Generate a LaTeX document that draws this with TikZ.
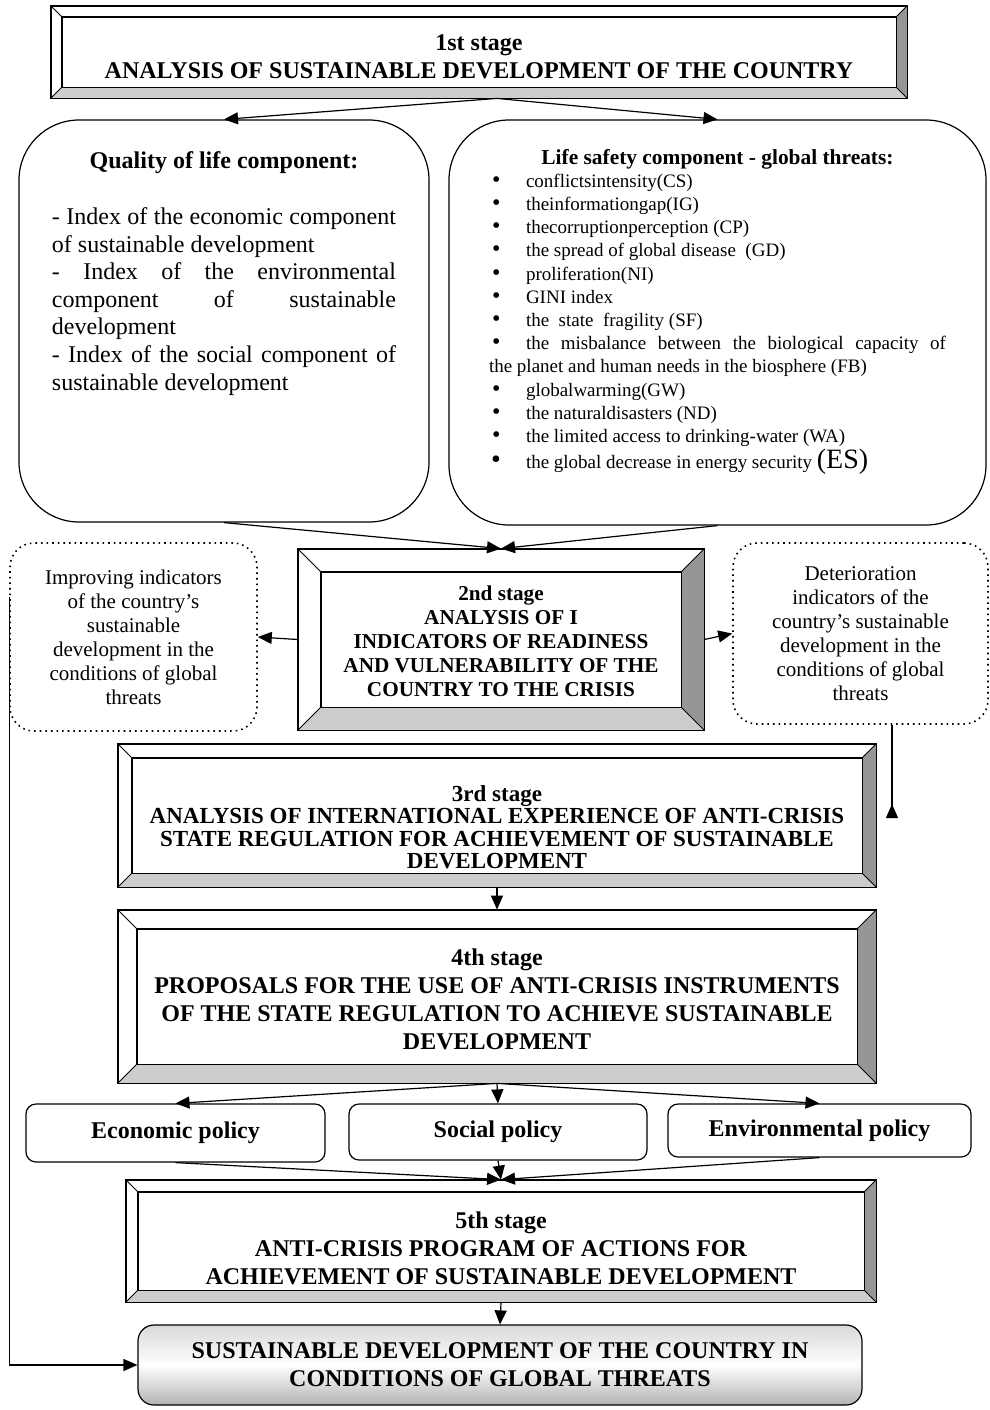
\documentclass[tikz,border=0pt]{standalone}
\usepackage{fontspec}
\setmainfont{Liberation Serif}
\usetikzlibrary{arrows.meta,positioning}
\definecolor{bevelgray}{RGB}{150,150,150}
\definecolor{bevellight}{RGB}{205,205,205}

% bevelled frame round a stage node: #1 node, #2 depth
\newcommand{\bevelbox}[2]{%
  \fill[bevellight] (#1.south west) -- ([shift={(#2,#2)}]#1.south west) -- ([shift={(-#2,#2)}]#1.south east) -- (#1.south east) -- cycle;
  \fill[bevelgray] (#1.north east) -- ([shift={(-#2,-#2)}]#1.north east) -- ([shift={(-#2,#2)}]#1.south east) -- (#1.south east) -- cycle;
  \draw[line width=0.4pt] (#1.north west) -- ++(#2,-#2) (#1.north east) -- ++(-#2,-#2)
    (#1.south west) -- ++(#2,#2) (#1.south east) -- ++(-#2,#2);
  \draw[line width=0.9pt] ([shift={(#2,-#2)}]#1.north west) rectangle ([shift={(-#2,#2)}]#1.south east);
  \draw[line width=0.9pt] (#1.north west) rectangle (#1.south east);
}
\newcommand{\threat}[1]{\makebox[18.5pt][l]{\hspace{1.5pt}{\fontsize{12pt}{11.6pt}\selectfont\textbullet}}#1\par}

\tikzset{
  stage/.style={fill=white, inner sep=0pt},
  stagetext/.style={align=center, font=\bfseries\fontsize{12pt}{14pt}\selectfont},
  roundbox/.style={draw, line width=0.6pt, rounded corners=30pt, fill=white, inner sep=0pt},
  sidebox/.style={draw, dotted, line width=0.8pt, rounded corners=12pt, align=center,
    inner sep=0pt, font=\fontsize{10.5pt}{12pt}\selectfont},
  policy/.style={draw, line width=0.6pt, rounded corners=5pt, inner sep=0pt,
    font=\bfseries\fontsize{12pt}{14pt}\selectfont},
  arrow/.style={-{Triangle[length=7pt,width=6pt]}, line width=0.6pt},
}

\begin{document}
\begin{tikzpicture}[x=0.5pt, y=-0.5pt]
\useasboundingbox (0,0) rectangle (990,1410);

% stage 1
\node[stage, minimum width=428pt, minimum height=46pt] (s1) at (479,52) {};
\bevelbox{s1}{5.5pt}
\node[stagetext] (s1txt) at (479,57) {1st stage\\ANALYSIS OF SUSTAINABLE DEVELOPMENT OF THE COUNTRY};

% components
\node[roundbox, minimum width=205pt, minimum height=201pt] (qual) at (224,321) {%
  \parbox[c][169pt][t]{172pt}{%
    {\centering\bfseries\fontsize{12pt}{14pt}\selectfont Quality of life component:\par}
    \vspace{14pt}
    \fontsize{12pt}{13.8pt}\selectfont
    - Index of the economic component\linebreak of sustainable development\par
    - Index of the environmental\linebreak component of sustainable\linebreak development\par
    - Index of the social component of\linebreak sustainable development\par}};
\node[roundbox, minimum width=268.5pt, minimum height=202.5pt] (safety) at (717.5,322.5) {%
  \parbox[c][173.5pt][t]{228.5pt}{%
    {\centering\bfseries\fontsize{10.7pt}{12.5pt}\selectfont Life safety component - global threats:\par}
    \fontsize{9.5pt}{11.6pt}\selectfont
    \threat{conflictsintensity(CS)}
    \threat{theinformationgap(IG)}
    \threat{thecorruptionperception (CP)}
    \threat{the spread of global disease\ \ (GD)}
    \threat{proliferation(NI)}
    \threat{GINI index}
    \threat{the\ \ state\ \ fragility (SF)}
    \threat{the misbalance between the biological capacity of\linebreak the planet and human needs in the biosphere (FB)}
    \threat{globalwarming(GW)}
    \threat{the naturaldisasters (ND)}
    \threat{the limited access to drinking-water (WA)}
    \makebox[18.5pt][l]{\hspace{1pt}{\fontsize{14pt}{12pt}\selectfont\textbullet}}the global decrease in energy security {\fontsize{14pt}{14pt}\selectfont(ES)}\par}};

% stage 2 and its outcomes
\node[stage, minimum width=203pt, minimum height=90.5pt] (s2) at (501,639.5) {};
\bevelbox{s2}{11.5pt}
\node[stagetext, font=\bfseries\fontsize{10.6pt}{12pt}\selectfont] (s2txt) at (501,641)
  {2nd stage\\ANALYSIS OF I\\INDICATORS OF READINESS\\AND VULNERABILITY OF THE\\COUNTRY TO THE CRISIS};
\node[sidebox, minimum width=123.5pt, minimum height=94pt] (imp) at (133.5,637)
  {Improving indicators\\of the country’s\\sustainable\\development in the\\conditions of global\\threats};
\node[sidebox, minimum width=127.5pt, minimum height=90.5pt] (det) at (860.5,633.5)
  {Deterioration\\indicators of the\\country’s sustainable\\development in the\\conditions of global\\threats};

% stage 3
\node[stage, minimum width=379pt, minimum height=71.5pt] (s3) at (497,815.5) {};
\bevelbox{s3}{7pt}
\node[stagetext, font=\bfseries\fontsize{11.5pt}{11.2pt}\selectfont] (s3txt) at (497,827)
  {3rd stage\\ANALYSIS OF INTERNATIONAL EXPERIENCE OF ANTI-CRISIS\\STATE REGULATION FOR ACHIEVEMENT OF SUSTAINABLE\\DEVELOPMENT};

% stage 4
\node[stage, minimum width=379pt, minimum height=86.5pt] (s4) at (497,996.5) {};
\bevelbox{s4}{9.5pt}
\node[stagetext] (s4txt) at (497,999)
  {4th stage\\PROPOSALS FOR THE USE OF ANTI-CRISIS INSTRUMENTS\\OF THE STATE REGULATION TO ACHIEVE SUSTAINABLE\\DEVELOPMENT};

% policies
\node[policy, minimum width=149.5pt, minimum height=29pt] (econ) at (175.5,1133) {Economic policy};
\node[policy, minimum width=149pt, minimum height=28pt] (social) at (498,1132) {Social policy};
\node[policy, minimum width=151.5pt, minimum height=26.5pt] (env) at (819.5,1130.5) {Environmental policy};

% stage 5
\node[stage, minimum width=375pt, minimum height=61pt] (s5) at (501,1241) {};
\bevelbox{s5}{6pt}
\node[stagetext] (s5txt) at (501,1248)
  {5th stage\\ANTI-CRISIS PROGRAM OF ACTIONS FOR\\ACHIEVEMENT OF SUSTAINABLE DEVELOPMENT};

% goal
\node[draw, line width=0.6pt, rounded corners=8pt, top color=gray!30, bottom color=gray!60,
  middle color=white, minimum width=362pt, minimum height=40pt, align=center,
  font=\bfseries\fontsize{12pt}{14pt}\selectfont] (goal) at (500,1365)
  {SUSTAINABLE DEVELOPMENT OF THE COUNTRY IN\\CONDITIONS OF GLOBAL THREATS};

% connectors
\draw[arrow] ([xshift=9pt]s1.south) -- (qual.north);
\draw[arrow] ([xshift=9pt]s1.south) -- (safety.north);
\draw[arrow] (qual.south) -- (s2.north);
\draw[arrow] (safety.south) -- (s2.north);
\draw[arrow] (s2.west) -- (imp.east);
\draw[arrow] (s2.east) -- (det.west);
\coordinate (dtip) at (892,818);
\draw[line width=0.6pt, -{Triangle[reversed,length=7pt,width=6pt]}] (dtip |- det.south) -- (dtip);
\draw[arrow] (s3.south) -- (s4.north);
\draw[arrow] (s4.south) -- (econ.north);
\draw[arrow] (s4.south) -- (social.north);
\draw[arrow] (s4.south) -- (env.north);
\draw[arrow] (econ.south) -- (s5.north);
\draw[arrow] (social.south) -- (s5.north);
\draw[arrow] (env.south) -- (s5.north);
\draw[arrow] (s5.south) -- (goal.north);
\draw[arrow] ([yshift=20pt]imp.west) |- (goal.west);
\end{tikzpicture}
\end{document}
